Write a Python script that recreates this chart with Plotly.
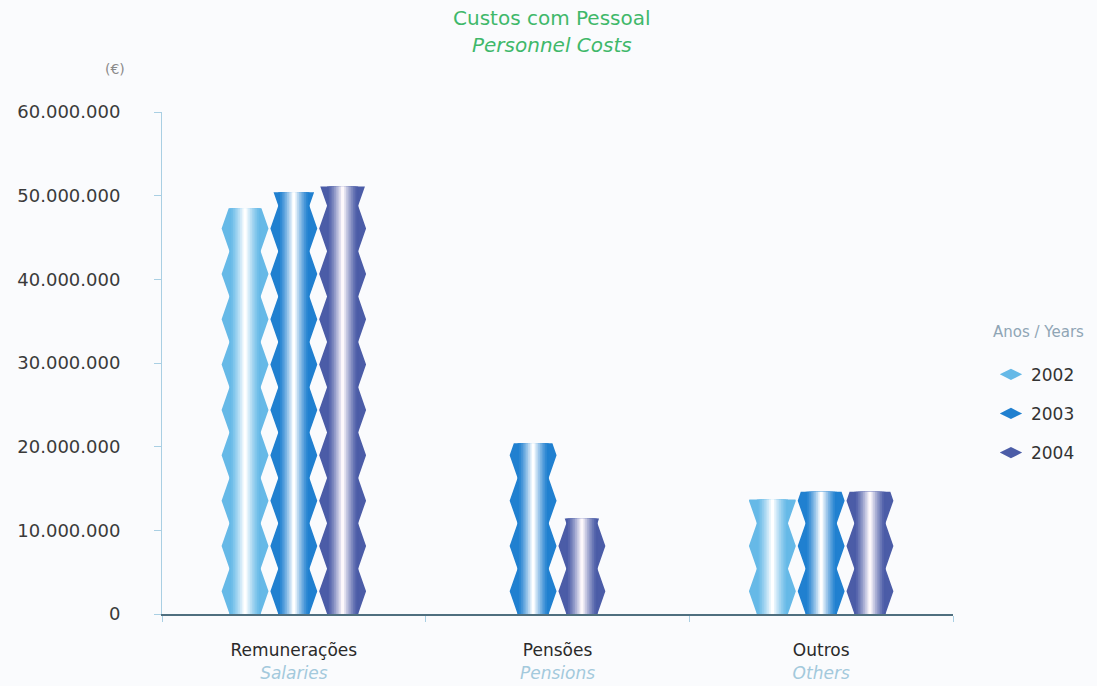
import plotly.graph_objects as go

# Personnel costs by cost type and year (euros)
categories = ["Remunerações", "Pensões", "Outros"]
categories_en = ["Salaries", "Pensions", "Others"]
years = ["2002", "2003", "2004"]
costs_2002 = [48_500_000, None, 13_700_000]
costs_2003 = [50_400_000, 20_400_000, 14_600_000]
costs_2004 = [51_100_000, 11_400_000, 14_600_000]
y_ticks = [0, 10_000_000, 20_000_000, 30_000_000, 40_000_000, 50_000_000, 60_000_000]

series = [costs_2002, costs_2003, costs_2004]

# edge colour of each year's column (fades to white at the centre)
edge_colors = ["#66b9e7", "#2080d0", "#4b5ca7"]
center_colors = ["#ffffff", "#ffffff", "#fdf8fb"]

BAR_STEP = 0.185      # distance between neighbouring columns (x units)
HALF_WAIST = 0.059    # half width of the column core (x units)
BUMP = 0.030          # how far the zigzag sticks out (x units)
PERIOD = 5_420_000    # zigzag period along the value axis
LAYERS = 9


def hex_to_rgb(h):
    h = h.lstrip("#")
    return tuple(int(h[i:i + 2], 16) for i in (0, 2, 4))


def mix(c1, c2, t):
    a, b = hex_to_rgb(c1), hex_to_rgb(c2)
    return "rgb(%d,%d,%d)" % tuple(round(a[i] + (b[i] - a[i]) * t) for i in range(3))


def half_width(y):
    phase = (y / PERIOD) % 1.0
    tri = 1 - abs(phase * 2 - 1)
    return HALF_WAIST + BUMP * tri


def zigzag_outline(xc, value):
    ys = []
    k = 0
    while k * PERIOD / 2 < value:
        ys.append(k * PERIOD / 2)
        k += 1
    ys.append(value)
    xs = [xc + half_width(y) for y in ys] + [xc - half_width(y) for y in reversed(ys)]
    yy = ys + list(reversed(ys))
    xs.append(xs[0])
    yy.append(yy[0])
    return xs, yy


# column centre for every (category, year) pair; missing years close the gap
positions = [[None] * len(categories) for _ in years]
for ci in range(len(categories)):
    present = [si for si in range(len(years)) if series[si][ci] is not None]
    n = len(present)
    for rank, si in enumerate(present):
        positions[si][ci] = ci + (rank - (n - 1) / 2) * BAR_STEP

fig = go.Figure()

# zigzag silhouettes behind the columns
for si, vals in enumerate(series):
    for ci, v in enumerate(vals):
        if v is None:
            continue
        xs, yy = zigzag_outline(positions[si][ci], v)
        fig.add_trace(go.Scatter(
            x=xs, y=yy, fill="toself", mode="lines",
            line=dict(width=0), fillcolor=edge_colors[si],
            hoverinfo="skip", showlegend=False,
        ))

# legend entries
for si, yr in enumerate(years):
    fig.add_trace(go.Scatter(
        x=[None], y=[None], mode="markers", name=yr, legendgroup=yr,
        marker=dict(symbol="diamond-wide", size=16, color=edge_colors[si],
                    line=dict(width=0)),
    ))

# columns with a horizontal shading made of stacked narrower layers
for si, vals in enumerate(series):
    xs = [positions[si][ci] for ci, v in enumerate(vals) if v is not None]
    ys = [v for v in vals if v is not None]
    for li in range(LAYERS):
        t = li / (LAYERS - 1)
        fig.add_trace(go.Bar(
            x=xs, y=ys, width=2 * HALF_WAIST * (1 - 0.9 * t),
            marker=dict(color=mix(edge_colors[si], center_colors[si], t ** 1.3),
                        line=dict(width=0)),
            xaxis="x2", yaxis="y2", hoverinfo="skip", showlegend=False,
        ))

tick_text = [
    f"{pt}<br><span style='color:#a3c9dc'><i>{en}</i></span>"
    for pt, en in zip(categories, categories_en)
]

x_range = [-0.5, len(categories) - 0.5]
y_range = [0, 60_000_000]

title_font = dict(family="DejaVu Sans", size=20, color="#3fb86a")

fig.update_layout(
    width=1097, height=686,
    margin=dict(l=162, r=144, t=112, b=72, autoexpand=False),
    paper_bgcolor="#fafbfd", plot_bgcolor="#fafbfd",
    barmode="overlay",
    separators=",.",
    font=dict(family="DejaVu Sans", size=16, color="#333333"),
    xaxis=dict(
        range=x_range, tickvals=list(range(len(categories))), ticktext=tick_text,
        ticks="outside", ticklen=0, showgrid=False, zeroline=False,
        showline=True, linecolor="#4f6f7f", linewidth=2,
        ticklabelstandoff=20, automargin=False,
        tickfont=dict(size=17, color="#2a2a2a"),
        minor=dict(tickvals=[-0.5, 0.5, 1.5, 2.5], ticks="outside", ticklen=6,
                   tickcolor="#a9cfe3", showgrid=False),
    ),
    yaxis=dict(
        range=y_range, tickvals=y_ticks, tickformat=",d",
        ticks="outside", ticklen=7, tickcolor="#a9cfe3",
        showgrid=False, zeroline=False,
        showline=True, linecolor="#a9cfe3", linewidth=1,
        ticklabelstandoff=30, automargin=False,
        tickfont=dict(size=18, color="#3a3a3a"),
    ),
    xaxis2=dict(range=x_range, overlaying="x", visible=False),
    yaxis2=dict(range=y_range, overlaying="y", visible=False),
    legend=dict(
        x=1.048, y=0.59, xanchor="left", yanchor="top",
        title=dict(text="Anos / Years<br> ", font=dict(size=15, color="#8fa5b5")),
        font=dict(size=17, color="#333333"),
        traceorder="grouped", tracegroupgap=14,
        bgcolor="rgba(0,0,0,0)",
    ),
    annotations=[
        dict(text="Custos com Pessoal", xref="paper", yref="paper",
             x=0.493, y=1.187, xanchor="center", yanchor="middle",
             showarrow=False, font=title_font),
        dict(text="<i>Personnel Costs</i>", xref="paper", yref="paper",
             x=0.493, y=1.133, xanchor="center", yanchor="middle",
             showarrow=False, font=title_font),
        dict(text="(€)", xref="paper", yref="paper", x=-0.044, y=1.085,
             xanchor="right", yanchor="middle", showarrow=False,
             font=dict(size=14, color="#8a8a8a")),
    ],
)

fig.write_html("out.html")
